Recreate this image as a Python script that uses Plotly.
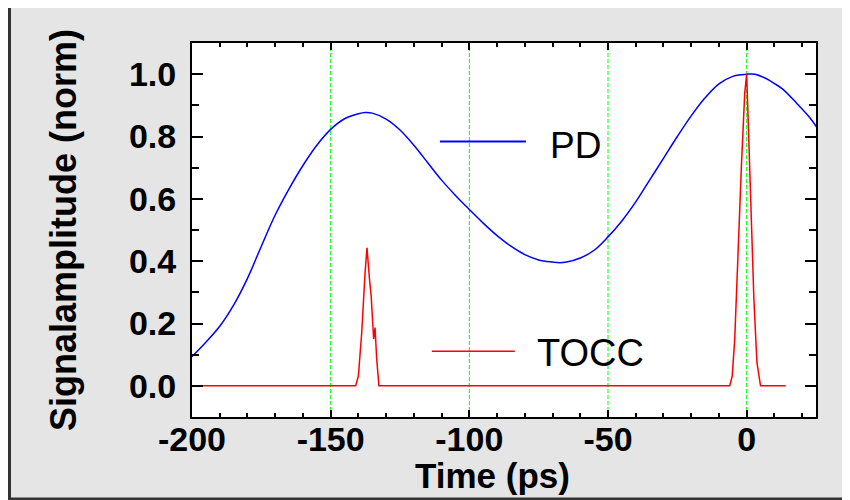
import plotly.graph_objects as go

# ---- data ----
pd_t = [-201, -195, -190, -185, -180, -175, -170, -165, -160, -155, -150, -145, -140,
        -137.5, -135, -130, -125, -120, -115, -110, -105, -100, -95, -90, -85, -80,
        -75, -70, -67.5, -65, -60, -55, -50, -45, -40, -35, -30, -25, -20, -15, -10,
        -5, -2, 0, 3, 7, 10, 13, 18, 23, 26]
pd_v = [0.085, 0.140, 0.191, 0.259, 0.345, 0.448, 0.548, 0.632, 0.707, 0.772, 0.823,
        0.857, 0.873, 0.877, 0.875, 0.856, 0.821, 0.772, 0.716, 0.660, 0.611, 0.566,
        0.522, 0.482, 0.448, 0.421, 0.404, 0.397, 0.395, 0.397, 0.410, 0.435, 0.478,
        0.529, 0.590, 0.660, 0.730, 0.800, 0.866, 0.924, 0.969, 0.993, 0.998, 1.000,
        1.000, 0.986, 0.970, 0.952, 0.907, 0.858, 0.820]

tocc_t = [-196, -141.0, -140.0, -138.8, -137.6, -136.9, -136.0, -135.4, -134.5, -134.0,
          -133.4, -132.6, -6.1, -5.2, -4.3, -3.1, -1.9, -0.7, 0.0, 0.7, 1.7, 2.6, 3.7,
          5.0, 14]
tocc_v = [0, 0, 0.032, 0.171, 0.363, 0.443, 0.342, 0.288, 0.150, 0.187, 0.086, 0,
          0, 0.032, 0.150, 0.438, 0.705, 0.940, 1.000, 0.810, 0.545, 0.278, 0.075,
          0, 0]

x_range = [-200, 25]
y_range = [-0.1, 1.1]
x_tickvals = [-200, -150, -100, -50, 0]
x_ticktext = ["-200", "-150", "-100", "-50", "0"]
x_title = "Time (ps)"
y_title = "Signalamplitude (norm)"
legend_names = ["PD", "TOCC"]

FONT = "Liberation Sans, Arial, sans-serif"

fig = go.Figure()
fig.add_trace(go.Scatter(x=pd_t, y=pd_v, mode="lines", name=legend_names[0],
                         line=dict(color="#0000ff", width=1.5, shape="spline",
                                   smoothing=1.0)))
fig.add_trace(go.Scatter(x=tocc_t, y=tocc_v, mode="lines", name=legend_names[1],
                         line=dict(color="#ff0000", width=1.5)))

# page offset (default body margin of the html page)
OFF = 8
W, H = 850, 500
L, T = 192 - OFF, 43 - OFF
pw, ph = 624, 374
R, B = W - L - pw, H - T - ph


def px2paper_x(px):
    return (px - OFF - L) / pw


def px2paper_y(py):
    return (T + ph - (py - OFF)) / ph


shapes = [
    dict(type="rect", xref="paper", yref="paper", layer="below",
         x0=px2paper_x(9.5), x1=px2paper_x(848), y0=px2paper_y(499), y1=px2paper_y(-10),
         fillcolor="#e5e5e5", line=dict(color="#333333", width=3)),
    dict(type="rect", xref="paper", yref="paper", layer="below",
         x0=0, x1=1, y0=0, y1=1, fillcolor="white", line=dict(width=0)),
]
# vertical dashed grid lines at the major x ticks (inside the plot)
for xv in x_tickvals:
    if x_range[0] < xv < x_range[1]:
        shapes.append(dict(type="line", xref="x", yref="paper", layer="below",
                           x0=xv, x1=xv, y0=0, y1=1,
                           line=dict(color="#00ff00", width=1, dash="4px,2px")))
# legend sample lines
shapes += [
    dict(type="line", xref="x", yref="y", x0=-110.6, x1=-79.6, y0=0.784, y1=0.784,
         line=dict(color="#0000ff", width=2)),
    dict(type="line", xref="x", yref="y", x0=-113.5, x1=-83.6, y0=0.111, y1=0.111,
         line=dict(color="#ff0000", width=1.5)),
]

annotations = [
    dict(text=legend_names[0], x=-71.5, y=0.771, xref="x", yref="y", xanchor="left",
         yanchor="middle", showarrow=False, font=dict(family=FONT, size=37, color="black")),
    dict(text=legend_names[1], x=-76.5, y=0.106, xref="x", yref="y", xanchor="left",
         yanchor="middle", showarrow=False, font=dict(family=FONT, size=38, color="black")),
    dict(text="<b>%s</b>" % x_title, x=px2paper_x(492), y=px2paper_y(475), xref="paper",
         yref="paper", xanchor="center", yanchor="middle", showarrow=False,
         font=dict(family=FONT, size=35, color="black")),
    dict(text="<b>%s</b>" % y_title, x=px2paper_x(63), y=px2paper_y(230), xref="paper",
         yref="paper", xanchor="center", yanchor="middle", showarrow=False, textangle=-90,
         font=dict(family=FONT, size=36, color="black")),
]

fig.update_layout(
    width=W, height=H,
    margin=dict(l=L, r=R, t=T, b=B, pad=0, autoexpand=False),
    paper_bgcolor="white", plot_bgcolor="white",
    showlegend=False,
    shapes=shapes, annotations=annotations,
    font=dict(family=FONT, color="black"),
)
fig.update_xaxes(range=x_range, tickvals=x_tickvals, ticktext=x_ticktext,
                 ticks="inside", ticklen=7, tickwidth=2, automargin=False,
                 tickcolor="black", showline=True, linecolor="black", linewidth=2,
                 mirror="allticks", showgrid=False, zeroline=False, ticklabelstandoff=-9,
                 tickfont=dict(family=FONT, size=34, color="black", weight="bold"),
                 minor=dict(tickvals=[v for v in range(-190, 25, 10) if v % 50 != 0],
                            ticks="inside", ticklen=4, tickwidth=2,
                            tickcolor="black", showgrid=False))
fig.update_yaxes(range=y_range, tick0=0, dtick=0.2, tickformat=".1f", ticks="inside",
                 ticklen=11, tickwidth=2, tickcolor="black", showline=True,
                 automargin=False,
                 linecolor="black", linewidth=2, mirror="allticks", showgrid=False,
                 zeroline=False, ticklabelstandoff=7,
                 tickfont=dict(family=FONT, size=34, color="black", weight="bold"),
                 minor=dict(dtick=0.1, ticks="inside", ticklen=7, tickwidth=2,
                            tickcolor="black", showgrid=False))

fig.write_html("out.html")
